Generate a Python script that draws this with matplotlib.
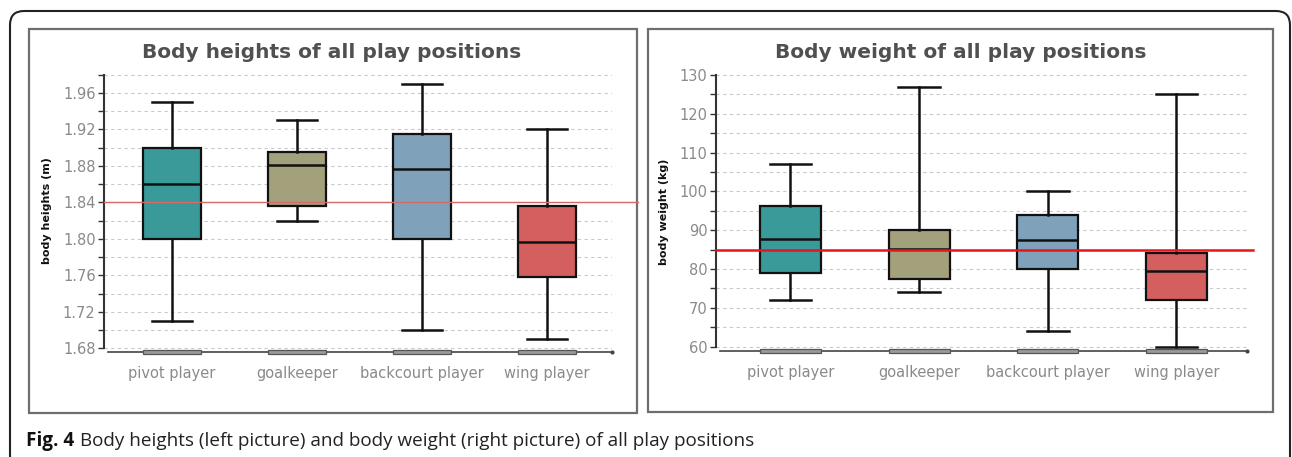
import matplotlib
matplotlib.use("Agg")
import matplotlib.pyplot as plt
from matplotlib.patches import Rectangle, FancyBboxPatch
from matplotlib.ticker import MultipleLocator
import matplotlib.transforms as mtransforms

plt.rcParams["font.family"] = ["DejaVu Sans"]

# ---------------- data ----------------
positions_labels = ["pivot player", "goalkeeper", "backcourt player", "wing player"]
box_colors = ["#3a9a9a", "#a3a07c", "#7fa2ba", "#d35f5f"]

# body heights (m)
height_whislo = [1.71, 1.82, 1.70, 1.69]
height_q1 = [1.80, 1.836, 1.80, 1.758]
height_med = [1.86, 1.881, 1.876, 1.797]
height_q3 = [1.90, 1.895, 1.915, 1.836]
height_whishi = [1.95, 1.93, 1.97, 1.92]
height_mean_all = 1.84

# body weight (kg)
weight_whislo = [72, 74, 64, 60]
weight_q1 = [79, 77.5, 80, 72]
weight_med = [87.7, 85.2, 87.4, 79.4]
weight_q3 = [96.2, 90, 94, 84.2]
weight_whishi = [107, 127, 100, 125]
weight_mean_all = 85

W, H = 1292, 457
fig = plt.figure(figsize=(W / 100, H / 100), dpi=100)

# background axes in pixel coordinates
bg = fig.add_axes([0, 0, 1, 1], zorder=-10)
bg.set_xlim(0, W)
bg.set_ylim(H, 0)
bg.axis("off")
bg.add_patch(FancyBboxPatch((10, 11), 1280, 480, boxstyle="round,pad=0,rounding_size=14",
                            fill=False, edgecolor="#222222", linewidth=1.5))
for (x0, y0, x1, y1) in [(29, 29, 637, 413), (648, 29, 1273, 412)]:
    bg.add_patch(Rectangle((x0, y0), x1 - x0, y1 - y0, fill=False,
                           edgecolor="#6e6e6e", linewidth=1.6))

bg.text(332, 58, "Body heights of all play positions", ha="center", va="baseline",
        fontsize=14.5, fontweight="bold", color="#505050")
bg.text(961, 58, "Body weight of all play positions", ha="center", va="baseline",
        fontsize=14.5, fontweight="bold", color="#505050")

fig_txt = bg.text(26, 446, "Fig. 4", ha="left", va="baseline", fontsize=13.6, fontweight="bold",
                  family="Open Sans", color="#111111")
fig.canvas.draw()
bb = fig_txt.get_window_extent(renderer=fig.canvas.get_renderer())
x_after = bb.x1 + 6
bg.text(x_after, 446, "Body heights (left picture) and body weight (right picture) of all play positions",
        ha="left", va="baseline", fontsize=13.6, family="Open Sans", color="#222222")


def make_panel(rect, whislo, q1, med, q3, whishi, ylim, major, minor, spine_lo, spine_hi,
               xlim, width, capw, ylabel, mean_val, mean_color, mean_lw, mean_xmax, line_x0):
    ax = fig.add_axes(rect)
    stats = []
    for i in range(len(positions_labels)):
        stats.append(dict(whislo=whislo[i], q1=q1[i], med=med[i], q3=q3[i],
                          whishi=whishi[i], fliers=[], label=positions_labels[i]))
    bp = ax.bxp(stats, positions=[1, 2, 3, 4], widths=width, capwidths=capw,
                patch_artist=True, showfliers=False,
                boxprops=dict(edgecolor="#111111", linewidth=1.6),
                whiskerprops=dict(color="#111111", linewidth=1.8),
                capprops=dict(color="#111111", linewidth=1.8),
                medianprops=dict(color="#111111", linewidth=1.8))
    for patch, c in zip(bp["boxes"], box_colors):
        patch.set_facecolor(c)
    for art in bp["boxes"] + bp["whiskers"] + bp["caps"] + bp["medians"]:
        art.set_zorder(3)

    ax.set_xlim(*xlim)
    ax.set_ylim(*ylim)
    ax.yaxis.set_major_locator(MultipleLocator(major))
    ax.yaxis.set_minor_locator(MultipleLocator(minor))
    ax.grid(True, which="both", axis="y", color="#c9c9c9", linestyle=(0, (3, 3)), linewidth=0.8)
    ax.set_axisbelow(True)
    for s in ["top", "right", "bottom"]:
        ax.spines[s].set_visible(False)
    ax.spines["left"].set_bounds(spine_lo, spine_hi)
    ax.spines["left"].set_color("#333333")
    ax.spines["left"].set_linewidth(1.5)
    ax.patch.set_alpha(0)

    ax.tick_params(axis="y", which="both", direction="out", color="#333333", width=1,
                   labelsize=10.5, labelcolor="#8a8a8a", pad=2)
    ax.tick_params(axis="y", which="major", length=4)
    ax.tick_params(axis="y", which="minor", length=4)
    ax.set_xticks([1, 2, 3, 4])
    ax.set_xticklabels(positions_labels)
    ax.tick_params(axis="x", length=0, labelsize=10.5, labelcolor="#8a8a8a", pad=10)

    ax.set_ylabel(ylabel, fontsize=8, fontweight="bold", color="#111111", labelpad=8)

    trans = mtransforms.blended_transform_factory(ax.transData, ax.transAxes)
    # axis base line
    ax.plot([line_x0, 1], [0, 0], transform=ax.transAxes, color="#444444", lw=1.2,
            clip_on=False, zorder=4)
    ax.plot([1], [0], transform=ax.transAxes, marker="o", ms=2, color="#444444",
            clip_on=False, zorder=4)
    for p in [1, 2, 3, 4]:
        ax.add_patch(Rectangle((p - width / 2, -0.007), width, 0.014, transform=trans,
                               facecolor="#9a9a9a", edgecolor="#555555", linewidth=0.9,
                               clip_on=False, zorder=5))
    ax.axhline(mean_val, xmin=0, xmax=mean_xmax, color=mean_color, lw=mean_lw,
               clip_on=False, zorder=6)
    return ax


make_panel([104 / W, (H - 352) / H, 508 / W, (352 - 70) / H],
           height_whislo, height_q1, height_med, height_q3, height_whishi,
           (1.676, 1.985), 0.04, 0.02, 1.68, 1.98,
           (0.456, 4.52), 0.464, 0.32, "body heights (m)",
           height_mean_all, "#d46a6a", 1.0, (638 - 104) / 508, 4 / 508)

make_panel([716 / W, (H - 351) / H, 531 / W, (351 - 73) / H],
           weight_whislo, weight_q1, weight_med, weight_q3, weight_whishi,
           (58.9, 130.5), 10, 5, 60, 130,
           (0.421, 4.548), 0.474, 0.324, "body weight (kg)",
           weight_mean_all, "#e8141c", 1.8, (1253 - 716) / 531, 4 / 531)

fig.savefig("out.png", dpi=100)
